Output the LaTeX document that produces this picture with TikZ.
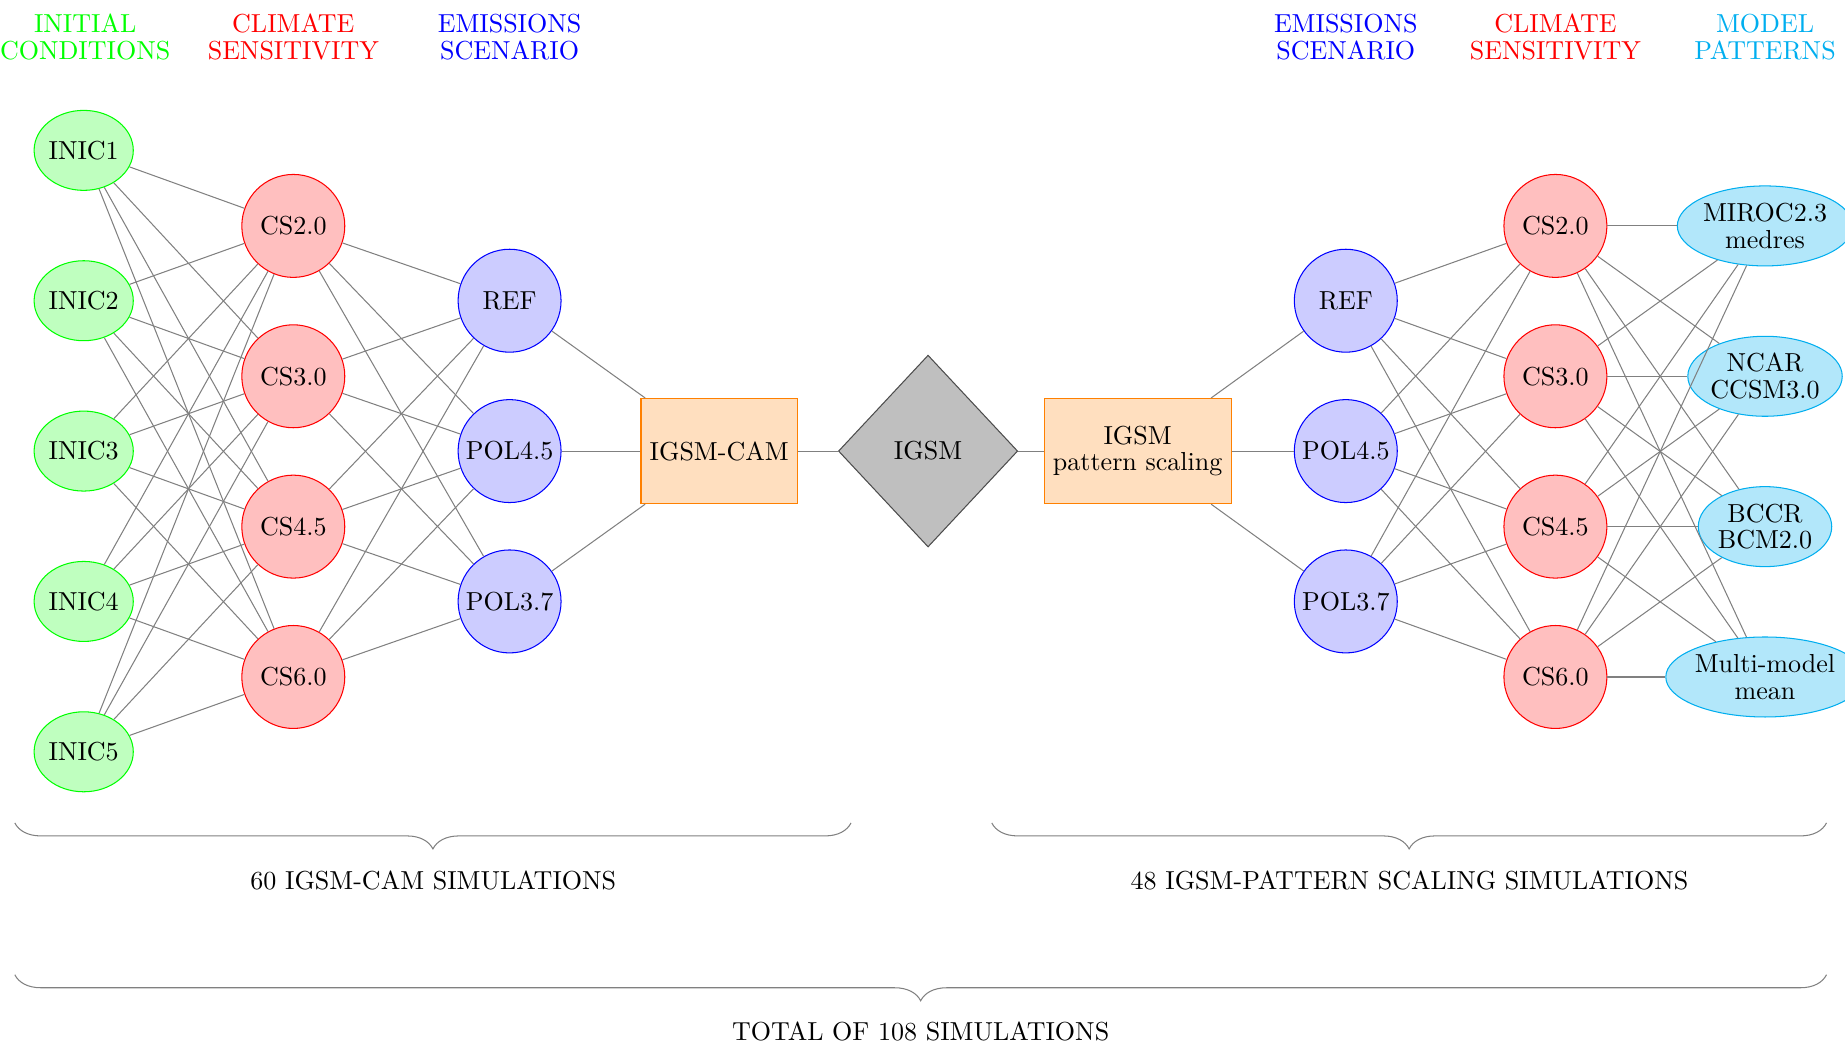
\documentclass[tikz,border=0pt]{standalone}
\usepackage{tikz}
\usetikzlibrary{shapes.geometric,decorations.pathreplacing}
\definecolor{mpblue}{RGB}{0,174,239}
\tikzset{ ic/.style = { ellipse
                      , draw = green
                      , fill = green!25
                      , inner sep      = 0pt
                      , minimum width  = 1.27cm
                      , minimum height = 1.08cm
                      },
          sens/.style = { circle
                        , draw = red
                        , fill = red!25
                        , inner sep    = 0pt
                        , minimum size = 1.39cm
                        },
          emis/.style = { circle
                        , draw = blue
                        , fill = blue!20
                        , inner sep    = 0pt
                        , minimum size = 1.39cm
                        },
          mdl/.style = { ellipse
                       , draw = mpblue
                       , fill = mpblue!30
                       , align = center
                       , inner sep      = 0pt
                       , minimum height = 1.08cm
                       },
          sim/.style = { rectangle
                       , draw = orange
                       , fill = orange!25
                       , align = center
                       , minimum height = 1.42cm
                       },
          core/.style = { diamond
                        , draw = black!70
                        , fill = gray!50
                        , minimum width  = 2.42cm
                        , minimum height = 2.59cm
                        },
          hd/.style = { align = center }
        }

\begin{document}
\begin{tikzpicture}[font=\fontsize{10}{10.3}\selectfont]
            \useasboundingbox (0,0) rectangle (24.91,-14.22);
            % column titles
            \node[hd, text=green]  (t1) at (1.15,-0.50)  {INITIAL\\CONDITIONS};
            \node[hd, text=red]    (t2) at (3.96,-0.50)  {CLIMATE\\SENSITIVITY};
            \node[hd, text=blue]   (t3) at (6.88,-0.50)  {EMISSIONS\\SCENARIO};
            \node[hd, text=blue]   (t4) at (18.17,-0.50) {EMISSIONS\\SCENARIO};
            \node[hd, text=red]    (t5) at (21.00,-0.50) {CLIMATE\\SENSITIVITY};
            \node[hd, text=mpblue] (t6) at (23.83,-0.50) {MODEL\\PATTERNS};
            % IGSM-CAM side
            \node[ic] (i1) at (1.13,-2.03)  {INIC1};
            \node[ic] (i2) at (1.13,-4.06)  {INIC2};
            \node[ic] (i3) at (1.13,-6.09)  {INIC3};
            \node[ic] (i4) at (1.13,-8.12)  {INIC4};
            \node[ic] (i5) at (1.13,-10.15) {INIC5};
            \node[sens] (c1) at (3.96,-3.05) {CS2.0};
            \node[sens] (c2) at (3.96,-5.08) {CS3.0};
            \node[sens] (c3) at (3.96,-7.11) {CS4.5};
            \node[sens] (c4) at (3.96,-9.14) {CS6.0};
            \node[emis] (e1) at (6.88,-4.06) {REF};
            \node[emis] (e2) at (6.88,-6.09) {POL4.5};
            \node[emis] (e3) at (6.88,-8.12) {POL3.7};
            \node[sim, minimum width=2.11cm] (cam) at (9.71,-6.09) {IGSM-CAM};
            \node[core] (igsm) at (12.53,-6.09) {IGSM};
            % pattern scaling side
            \node[sim, minimum width=2.50cm] (ps) at (15.36,-6.09) {IGSM\\pattern scaling};
            \node[emis] (pe1) at (18.17,-4.06) {REF};
            \node[emis] (pe2) at (18.17,-6.09) {POL4.5};
            \node[emis] (pe3) at (18.17,-8.12) {POL3.7};
            \node[sens] (pc1) at (21.00,-3.05) {CS2.0};
            \node[sens] (pc2) at (21.00,-5.08) {CS3.0};
            \node[sens] (pc3) at (21.00,-7.11) {CS4.5};
            \node[sens] (pc4) at (21.00,-9.14) {CS6.0};
            \node[mdl] (m1) at (23.83,-3.05) {MIROC2.3\\medres};
            \node[mdl] (m2) at (23.83,-5.08) {NCAR\\CCSM3.0};
            \node[mdl] (m3) at (23.83,-7.11) {BCCR\\BCM2.0};
            \node[mdl] (m4) at (23.83,-9.14) {Multi-model\\mean};
            % links
            \path[draw=gray] (i1) edge (c1) edge (c2) edge (c3) edge (c4);
            \path[draw=gray] (i2) edge (c1) edge (c2) edge (c3) edge (c4);
            \path[draw=gray] (i3) edge (c1) edge (c2) edge (c3) edge (c4);
            \path[draw=gray] (i4) edge (c1) edge (c2) edge (c3) edge (c4);
            \path[draw=gray] (i5) edge (c1) edge (c2) edge (c3) edge (c4);
            \path[draw=gray] (c1) edge (e1) edge (e2) edge (e3);
            \path[draw=gray] (c2) edge (e1) edge (e2) edge (e3);
            \path[draw=gray] (c3) edge (e1) edge (e2) edge (e3);
            \path[draw=gray] (c4) edge (e1) edge (e2) edge (e3);
            \path[draw=gray] (cam) edge (e1) edge (e2) edge (e3) edge (igsm);
            \path[draw=gray] (ps) edge (igsm) edge (pe1) edge (pe2) edge (pe3);
            \path[draw=gray] (pe1) edge (pc1) edge (pc2) edge (pc3) edge (pc4);
            \path[draw=gray] (pe2) edge (pc1) edge (pc2) edge (pc3) edge (pc4);
            \path[draw=gray] (pe3) edge (pc1) edge (pc2) edge (pc3) edge (pc4);
            \path[draw=gray] (pc1) edge (m1) edge (m2) edge (m3) edge (m4);
            \path[draw=gray] (pc2) edge (m1) edge (m2) edge (m3) edge (m4);
            \path[draw=gray] (pc3) edge (m1) edge (m2) edge (m3) edge (m4);
            \path[draw=gray] (pc4) edge (m1) edge (m2) edge (m3) edge (m4);
            % totals
            \draw[gray, decorate, decoration={brace, mirror, amplitude=10pt}]
                (0.20,-11.11) -- (11.49,-11.11);
            \draw[gray, decorate, decoration={brace, mirror, amplitude=10pt}]
                (13.39,-11.11) -- (24.66,-11.11);
            \draw[gray, decorate, decoration={brace, mirror, amplitude=10pt}]
                (0.20,-13.16) -- (24.66,-13.16);
            \node (l1) at (5.85,-11.89)  {60 IGSM-CAM SIMULATIONS};
            \node (l2) at (19.03,-11.89) {48 IGSM-PATTERN SCALING SIMULATIONS};
            \node (l3) at (12.43,-13.93) {TOTAL OF 108 SIMULATIONS};
\end{tikzpicture}
\end{document}
